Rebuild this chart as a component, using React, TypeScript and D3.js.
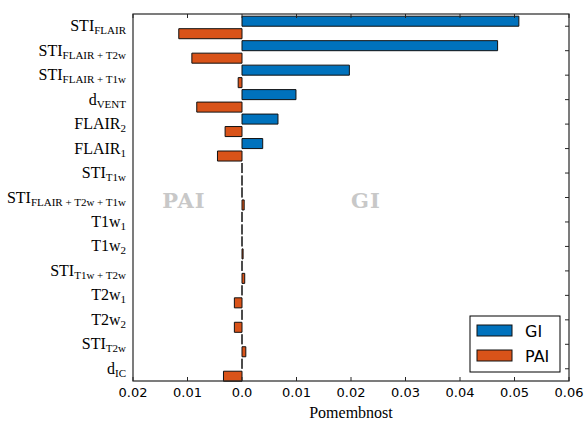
import React from "react";
import * as d3 from "d3";

// category labels: main text + subscript
const labelMain = ["STI", "STI", "STI", "d", "FLAIR", "FLAIR", "STI", "STI", "T1w", "T1w", "STI", "T2w", "T2w", "STI", "d"];
const labelSub = ["FLAIR", "FLAIR + T2w", "FLAIR + T1w", "VENT", "2", "1", "T1w", "FLAIR + T2w + T1w", "1", "2", "T1w + T2w", "1", "2", "T2w", "IC"];

// importance values (PAI drawn to the left, negative = drawn to the right)
const giValues = [0.0508, 0.0469, 0.0197, 0.0099, 0.0066, 0.0038, 0, 0, 0, 0, 0, 0, 0, 0, 0];
const paiValues = [0.0116, 0.0092, 0.0007, 0.0083, 0.0031, 0.0045, 0, -0.0004, 0, -0.0002, -0.0005, 0.0014, 0.0014, -0.0007, 0.0034];

const xTicks = [-0.02, -0.01, 0, 0.01, 0.02, 0.03, 0.04, 0.05, 0.06];

const GI_COLOR = "#0072bd";
const PAI_COLOR = "#d95319";

export default function App() {
  const width = 587;
  const height = 421;
  const left = 133, right = 569, top = 14, bottom = 381;

  const x = d3.scaleLinear().domain([-0.02, 0.06]).range([left, right]);
  const idx = d3.range(labelMain.length);
  const y = d3.scaleBand<number>().domain(idx).range([top, bottom]);
  const bw = y.bandwidth();
  const center = (i: number) => (y(i) as number) + bw / 2;

  const barPath = (v: number, y0: number, y1: number) => {
    const x0 = x(0), x1 = x(v);
    return `M${x0},${y0}H${x1}V${y1}H${x0}Z`;
  };

  const fmt = (v: number) => (v === 0 ? "0.0" : Math.abs(v).toFixed(2));

  return (
    <svg width={width} height={height} style={{ position: "absolute", left: 0, top: 0 }}>
      <rect width={width} height={height} fill="#fff" />

      {/* watermark text */}
      <text x={184} y={208} textAnchor="middle" fontFamily="DejaVu Serif" fontWeight="bold" fontSize={21} letterSpacing={1} fill="#c8c8c8">PAI</text>
      <text x={366} y={208} textAnchor="middle" fontFamily="DejaVu Serif" fontWeight="bold" fontSize={21} letterSpacing={1} fill="#c8c8c8">GI</text>

      {/* bars */}
      {idx.map((i) => (
        <g key={i}>
          <path d={barPath(giValues[i], center(i) - 0.41 * bw, center(i))} fill={GI_COLOR} stroke="#111" strokeWidth={1} />
          <path d={barPath(-paiValues[i], center(i) + 0.1 * bw, center(i) + 0.51 * bw)} fill={PAI_COLOR} stroke="#111" strokeWidth={1} />
        </g>
      ))}

      {/* frame */}
      <rect x={left} y={top} width={right - left} height={bottom - top} fill="none" stroke="#262626" strokeWidth={1.2} />

      {/* x ticks top/bottom, inward */}
      {xTicks.map((t) => (
        <g key={t}>
          <line x1={x(t)} x2={x(t)} y1={bottom} y2={bottom - 4} stroke="#262626" />
          <line x1={x(t)} x2={x(t)} y1={top} y2={top + 4} stroke="#262626" />
          <text x={x(t)} y={397} textAnchor="middle" fontFamily="DejaVu Sans" fontSize={13} fill="#000">{fmt(t)}</text>
        </g>
      ))}

      {/* y ticks on right spine */}
      {idx.map((i) => (
        <line key={i} x1={right} x2={right - 4} y1={center(i)} y2={center(i)} stroke="#262626" />
      ))}

      {/* y labels */}
      {idx.map((i) => (
        <text key={i} x={126} y={center(i) + 5} textAnchor="end" fontFamily="Liberation Serif" fontSize={16} fill="#000">
          {labelMain[i]}
          <tspan dy={3} fontSize={11}>{labelSub[i]}</tspan>
        </text>
      ))}

      <text x={(left + right) / 2} y={418} textAnchor="middle" fontFamily="Liberation Serif" fontSize={16} fill="#000">Pomembnost</text>

      {/* legend */}
      <rect x={470} y={316} width={90} height={56} fill="#fff" stroke="#000" strokeWidth={1} />
      <rect x={477} y={325} width={35} height={11} fill={GI_COLOR} stroke="#111" />
      <rect x={477} y={350} width={35} height={11} fill={PAI_COLOR} stroke="#111" />
      <text x={525} y={337} fontFamily="DejaVu Sans" fontSize={16} fill="#000">GI</text>
      <text x={525} y={362} fontFamily="DejaVu Sans" fontSize={16} fill="#000">PAI</text>
    </svg>
  );
}
